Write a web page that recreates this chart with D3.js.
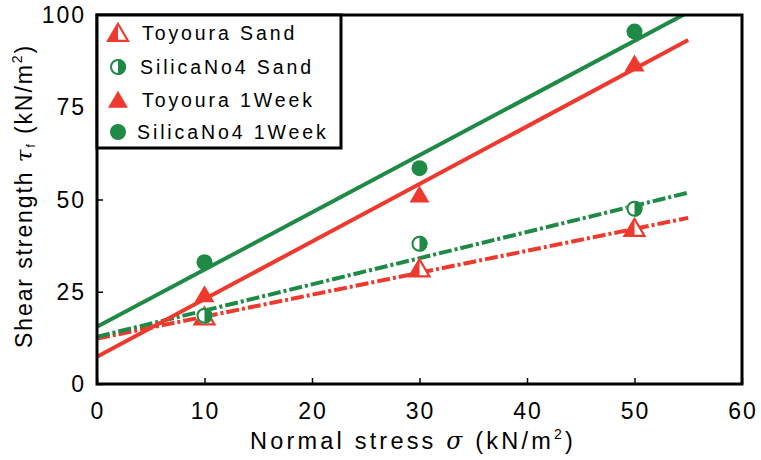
<!DOCTYPE html>
<html>
<head>
<meta charset="utf-8">
<script src="https://cdn.jsdelivr.net/npm/d3@7"></script>
<style>
  html, body { margin: 0; padding: 0; background: #fff; }
  svg { display: block; font-family: "Liberation Sans", Arial, sans-serif; }
</style>
</head>
<body>
<svg id="chart" width="761" height="460"></svg>
<script>
// Normal stress levels used in the direct shear tests (kN/m²)
const normalStress = [10, 30, 50];

// Measured shear strength for each sample (kN/m²)
const toyouraSand   = [18, 31, 42];
const silicaSand    = [18.5, 38, 47.5];
const toyouraWeek   = [24, 51, 86.5];
const silicaWeek    = [33, 58.5, 95.5];

// Linear fits: [intercept, slope], drawn from σ = 0 to σ = 55
const fitRange      = [0, 55];
const fitToyouraSand = [12.3, 0.595];
const fitSilicaSand  = [12.8, 0.71];
const fitToyouraWeek = [7.4, 1.56];
const fitSilicaWeek  = [15.5, 1.55];

const xTicks = [0, 10, 20, 30, 40, 50, 60];
const yTicks = [0, 25, 50, 75, 100];

const RED = "#ee3a2e";
const GREEN = "#1f8a45";

const series = [
  { name: "Toyoura Sand",    values: toyouraSand, fit: fitToyouraSand, color: RED,   shape: "tri",  fill: "half", dash: "13,3,3,3" },
  { name: "SilicaNo4 Sand",  values: silicaSand,  fit: fitSilicaSand,  color: GREEN, shape: "circ", fill: "half", dash: "13,3,3,3" },
  { name: "Toyoura 1Week",   values: toyouraWeek, fit: fitToyouraWeek, color: RED,   shape: "tri",  fill: "full", dash: null },
  { name: "SilicaNo4 1Week", values: silicaWeek,  fit: fitSilicaWeek,  color: GREEN, shape: "circ", fill: "full", dash: null }
];

const svg = d3.select("#chart");
const L = 97, R = 742, T = 15, B = 384;

const x = d3.scaleLinear().domain([0, 60]).range([L, R]);
const y = d3.scaleLinear().domain([0, 100]).range([B, T]);

svg.append("defs").append("clipPath").attr("id", "plotClip")
  .append("rect").attr("x", L).attr("y", T).attr("width", R - L).attr("height", B - T);

// Inward ticks on the bottom and left axes
const xAxis = d3.axisBottom(x).tickValues(xTicks).tickSize(-6).tickFormat("");
const yAxis = d3.axisLeft(y).tickValues(yTicks).tickSize(-6).tickFormat("");
svg.append("g").attr("transform", `translate(0,${B})`).call(xAxis)
  .call(g => g.select(".domain").remove())
  .selectAll("line").attr("stroke", "#000").attr("stroke-width", 1.5);
svg.append("g").attr("transform", `translate(${L},0)`).call(yAxis)
  .call(g => g.select(".domain").remove())
  .selectAll("line").attr("stroke", "#000").attr("stroke-width", 1.5);

// Tick labels
svg.append("g").selectAll("text").data(xTicks).join("text")
  .attr("x", d => x(d) + 1).attr("y", 419)
  .attr("text-anchor", "middle")
  .attr("font-size", 23).attr("letter-spacing", 2)
  .text(d => d);
svg.append("g").selectAll("text").data(yTicks).join("text")
  .attr("x", 86).attr("y", d => y(d) + 8)
  .attr("text-anchor", "end")
  .attr("font-size", 23).attr("letter-spacing", 2)
  .text(d => d);

// Fit lines
const plot = svg.append("g").attr("clip-path", "url(#plotClip)");
const line = d3.line().x(d => x(d[0])).y(d => y(d[1]));
series.forEach(s => {
  const pts = fitRange.map(v => [v, s.fit[0] + s.fit[1] * v]);
  plot.append("path")
    .attr("d", line(pts))
    .attr("fill", "none")
    .attr("stroke", s.color)
    .attr("stroke-width", 4)
    .attr("stroke-dasharray", s.dash);
});

// Marker drawing
function drawMarker(g, s, cx, cy) {
  if (s.shape === "tri") {
    const w = 20, h = 17;
    const top = [cx, cy - h * 0.6], bl = [cx - w / 2, cy + h * 0.4], br = [cx + w / 2, cy + h * 0.4];
    if (s.fill === "full") {
      g.append("path").attr("d", `M${top}L${bl}L${br}Z`).attr("fill", s.color);
    } else {
      g.append("path").attr("d", `M${top}L${bl}L${br}Z`).attr("fill", "#fff");
      g.append("path").attr("d", `M${top}L${bl}L${cx},${br[1]}Z`).attr("fill", s.color);
      g.append("path").attr("d", `M${top}L${bl}L${br}Z`).attr("fill", "none")
        .attr("stroke", s.color).attr("stroke-width", 2.2).attr("stroke-linejoin", "miter");
    }
  } else {
    const r = 8;
    if (s.fill === "full") {
      g.append("circle").attr("cx", cx).attr("cy", cy).attr("r", r).attr("fill", s.color);
    } else {
      g.append("circle").attr("cx", cx).attr("cy", cy).attr("r", r).attr("fill", "#fff");
      g.append("path").attr("d", `M${cx},${cy - r}A${r},${r} 0 0 1 ${cx},${cy + r}Z`).attr("fill", s.color);
      g.append("circle").attr("cx", cx).attr("cy", cy).attr("r", r - 1).attr("fill", "none")
        .attr("stroke", s.color).attr("stroke-width", 2);
    }
  }
}

const pointsG = svg.append("g");
series.forEach(s => {
  s.values.forEach((v, i) => drawMarker(pointsG, s, x(normalStress[i]), y(v)));
});

// Plot frame
svg.append("rect").attr("x", L).attr("y", T).attr("width", R - L).attr("height", B - T)
  .attr("fill", "none").attr("stroke", "#000").attr("stroke-width", 3);

// Legend
const lg = svg.append("g");
lg.append("rect").attr("x", L).attr("y", T).attr("width", 244).attr("height", 133)
  .attr("fill", "#fff").attr("stroke", "#000").attr("stroke-width", 3);
const rowY = [33, 67, 100, 132];
const textX = [142, 140, 142, 137];
series.forEach((s, i) => {
  drawMarker(lg, s, 118, rowY[i] + (s.shape === "tri" ? 1 : 0));
  lg.append("text").attr("x", textX[i]).attr("y", rowY[i] + 7)
    .attr("font-size", 19.5).attr("letter-spacing", 2.9)
    .text(s.name);
});

// Axis titles
const xt = svg.append("text").attr("x", 413).attr("y", 449)
  .attr("text-anchor", "middle").attr("font-size", 23.5).attr("letter-spacing", 3.2);
xt.append("tspan").text("Normal stress ");
xt.append("tspan").attr("font-style", "italic").attr("font-family", "DejaVu Serif").text("σ");
xt.append("tspan").text(" (kN/m");
xt.append("tspan").attr("font-size", 14).attr("dy", -10).text("2");
xt.append("tspan").attr("dy", 10).text(")");

const yt = svg.append("text")
  .attr("transform", "translate(32,196) rotate(-90)")
  .attr("text-anchor", "middle").attr("font-size", 23).attr("letter-spacing", 1.9);
yt.append("tspan").text("Shear strength ");
yt.append("tspan").attr("font-style", "italic").attr("font-family", "DejaVu Serif").text("τ");
yt.append("tspan").attr("font-size", 12).attr("dy", 3).text("f");
yt.append("tspan").attr("dy", -3).text(" (kN/m");
yt.append("tspan").attr("font-size", 14).attr("dy", -10).text("2");
yt.append("tspan").attr("dy", 10).text(")");
</script>
</body>
</html>
